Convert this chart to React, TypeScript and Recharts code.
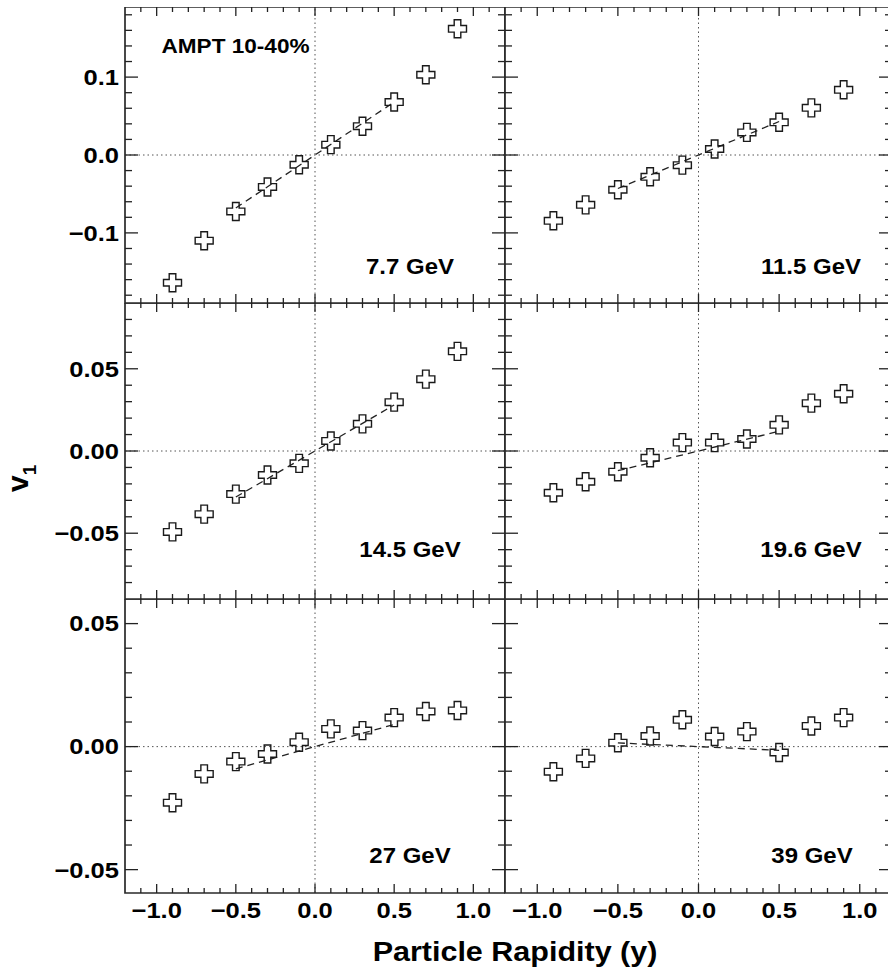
import React from 'react';
import { ScatterChart, Scatter, XAxis, YAxis, ReferenceLine, ReferenceArea } from 'recharts';

// ---------- data ----------
const rapidity = [-0.9, -0.7, -0.5, -0.3, -0.1, 0.1, 0.3, 0.5, 0.7, 0.9];

const v1_7p7 = [-0.164, -0.11, -0.0725, -0.041, -0.0125, 0.0133, 0.037, 0.068, 0.103, 0.162];
const v1_11p5 = [-0.0845, -0.064, -0.0446, -0.028, -0.013, 0.0077, 0.029, 0.042, 0.0605, 0.0837];
const v1_14p5 = [-0.0492, -0.0384, -0.0262, -0.0146, -0.0075, 0.0061, 0.0165, 0.0297, 0.0437, 0.0606];
const v1_19p6 = [-0.0254, -0.0187, -0.0126, -0.0041, 0.0051, 0.0051, 0.0073, 0.0159, 0.0291, 0.0348];
const v1_27 = [-0.0228, -0.0111, -0.0061, -0.003, 0.0018, 0.0072, 0.0065, 0.0118, 0.0143, 0.0147];
const v1_39 = [-0.0102, -0.0048, 0.0016, 0.0043, 0.0109, 0.0041, 0.0061, -0.0024, 0.0084, 0.0118];

// linear fit (dashed) endpoints
const fitX = [-0.5, 0.5];
const fit_7p7 = [-0.068, 0.068];
const fit_11p5 = [-0.043, 0.043];
const fit_14p5 = [-0.028, 0.028];
const fit_19p6 = [-0.012, 0.012];
const fit_27 = [-0.009, 0.009];
const fit_39 = [0.0015, -0.0015];

const energyLabels = ['7.7 GeV', '11.5 GeV', '14.5 GeV', '19.6 GeV', '27 GeV', '39 GeV'];
const centralityLabel = 'AMPT 10-40%';
const xTitle = 'Particle Rapidity (y)';

const xTicks = [-1.1, -1.0, -0.9, -0.8, -0.7, -0.6, -0.5, -0.4, -0.3, -0.2, -0.1, 0, 0.1, 0.2, 0.3, 0.4, 0.5, 0.6, 0.7, 0.8, 0.9, 1.0, 1.1];
const yTicksRow1 = [-0.18, -0.16, -0.14, -0.12, -0.1, -0.08, -0.06, -0.04, -0.02, 0, 0.02, 0.04, 0.06, 0.08, 0.1, 0.12, 0.14, 0.16, 0.18];
const yTicksRow2 = [-0.08, -0.07, -0.06, -0.05, -0.04, -0.03, -0.02, -0.01, 0, 0.01, 0.02, 0.03, 0.04, 0.05, 0.06, 0.07, 0.08];
const yTicksRow3 = [-0.05, -0.04, -0.03, -0.02, -0.01, 0, 0.01, 0.02, 0.03, 0.04, 0.05];

const xDomain = [-1.2, 1.2];
const yDomains = [[-0.19, 0.19], [-0.09, 0.09], [-0.0595, 0.06]];
const yMajorStep = [0.1, 0.05, 0.05];
const yDecimals = [1, 2, 2];
const yTicksRows = [yTicksRow1, yTicksRow2, yTicksRow3];

// ---------- layout ----------
const COL_LEFT = [125, 505];
const COL_W = [380, 387];
const ROW_TOP = [7, 303, 599];
const ROW_H = [296, 296, 294];
const YW = 125;
const XH = 45;
const FONT = '"Liberation Sans", Arial, Helvetica, sans-serif';
const INK = '#222';

const fmt = (v: number, d: number) => {
  const val = Math.abs(v) < 1e-9 ? 0 : v;
  return val.toFixed(d).replace('-', '\u2212');
};
const isMajor = (v: number, step: number) => Math.abs(v / step - Math.round(v / step)) < 1e-6;

function XTick(props: any) {
  const { x, y, payload, plotH, showLabel } = props;
  const v = payload.value;
  const major = isMajor(v, 0.5);
  const len = major ? 9 : 5;
  return (
    <g>
      <line x1={x} y1={y} x2={x} y2={y - len} stroke={INK} strokeWidth={1.3} />
      <line x1={x} y1={y - plotH} x2={x} y2={y - plotH + len} stroke={INK} strokeWidth={1.3} />
      {showLabel && major && (
        <g transform={`translate(${x},${y + 17 + 0.358 * 22}) scale(1.16,1)`}>
          <text x={0} y={0} textAnchor="middle" fontFamily={FONT} fontWeight="bold" fontSize={22} fill="#000">
            {fmt(v, 1)}
          </text>
        </g>
      )}
    </g>
  );
}

function YTick(props: any) {
  const { x, y, payload, plotW, showLabel, step, dec } = props;
  const v = payload.value;
  const major = isMajor(v, step);
  const len = major ? 13 : 7;
  return (
    <g>
      <line x1={x} y1={y} x2={x + len} y2={y} stroke={INK} strokeWidth={1.3} />
      <line x1={x + plotW} y1={y} x2={x + plotW - len} y2={y} stroke={INK} strokeWidth={1.3} />
      {showLabel && major && (
        <g transform={`translate(${x - 6},${y + 0.358 * 22}) scale(1.16,1)`}>
          <text x={0} y={0} textAnchor="end" fontFamily={FONT} fontWeight="bold" fontSize={22} fill="#000">
            {fmt(v, dec)}
          </text>
        </g>
      )}
    </g>
  );
}

function Cross(props: any) {
  const { cx, cy } = props;
  if (cx == null || cy == null) return <g />;
  const a = 3.3;
  const L = 9;
  const d = `M${cx - a},${cy - L}H${cx + a}V${cy - a}H${cx + L}V${cy + a}H${cx + a}V${cy + L}H${cx - a}V${cy + a}H${cx - L}V${cy - a}H${cx - a}Z`;
  return <path d={d} fill="none" stroke="#1a1a1a" strokeWidth={1.4} />;
}

const NoShape = () => <g />;

function Panel({ r, c, series, fit }: { r: number; c: number; series: number[]; fit: number[] }) {
  const plotLeft = COL_LEFT[c];
  const plotW = COL_W[c];
  const plotTop = ROW_TOP[r];
  const plotH = ROW_H[r];
  const dom = yDomains[r];
  const data = rapidity.map((x, i) => ({ x, y: series[i] }));
  const fitData = fitX.map((x, i) => ({ x, y: fit[i] }));
  const W = YW + plotW;
  const H = plotH + XH;
  return (
    <div style={{ position: 'absolute', left: plotLeft - YW, top: plotTop, width: W, height: H }}>
      <ScatterChart width={W} height={H} margin={{ top: 0, right: 0, bottom: 0, left: 0 }}>
        <XAxis
          type="number"
          dataKey="x"
          domain={xDomain}
          ticks={xTicks}
          interval={0}
          allowDataOverflow
          axisLine={false}
          tickLine={false}
          tickSize={0}
          tickMargin={0}
          height={XH}
          tick={(p: any) => <XTick {...p} plotH={plotH} showLabel={r === 2} />}
        />
        <YAxis
          type="number"
          dataKey="y"
          domain={dom}
          ticks={yTicksRows[r]}
          interval={0}
          allowDataOverflow
          axisLine={false}
          tickLine={false}
          tickSize={0}
          tickMargin={0}
          width={YW}
          tick={(p: any) => (
            <YTick {...p} plotW={plotW} showLabel={c === 0} step={yMajorStep[r]} dec={yDecimals[r]} />
          )}
        />
        <ReferenceLine x={0} stroke="#555" strokeDasharray="1.5 3" strokeWidth={1} />
        <ReferenceLine y={0} stroke="#555" strokeDasharray="1.5 3" strokeWidth={1} />
        <Scatter
          data={fitData}
          line={{ stroke: '#222', strokeWidth: 1.3, strokeDasharray: '7 5' }}
          shape={NoShape}
          isAnimationActive={false}
        />
        <Scatter data={data} shape={(p: any) => <Cross {...p} />} isAnimationActive={false} />
        <ReferenceArea
          x1={xDomain[0]}
          x2={xDomain[1]}
          y1={dom[0]}
          y2={dom[1]}
          fill="none"
          fillOpacity={0}
          stroke="#2a2a2a"
          strokeWidth={1.7}
        />
      </ScatterChart>
    </div>
  );
}

function StretchText({ cx, cy, text, size, sx }: { cx: number; cy: number; text: string; size: number; sx: number }) {
  return (
    <g transform={`translate(${cx},${cy + 0.358 * size}) scale(${sx},1)`}>
      <text x={0} y={0} textAnchor="middle" fontFamily={FONT} fontWeight="bold" fontSize={size} fill="#000">
        {text}
      </text>
    </g>
  );
}

const panels = [
  { r: 0, c: 0, series: v1_7p7, fit: fit_7p7 },
  { r: 0, c: 1, series: v1_11p5, fit: fit_11p5 },
  { r: 1, c: 0, series: v1_14p5, fit: fit_14p5 },
  { r: 1, c: 1, series: v1_19p6, fit: fit_19p6 },
  { r: 2, c: 0, series: v1_27, fit: fit_27 },
  { r: 2, c: 1, series: v1_39, fit: fit_39 },
];

const labelPos = [
  [410, 266],
  [811, 266],
  [410, 549],
  [811, 549],
  [410, 855],
  [812, 855],
];

export default function App() {
  return (
    <div
      style={{
        position: 'absolute',
        left: 0,
        top: 0,
        width: 888,
        height: 973,
        overflow: 'hidden',
        background: '#fff',
      }}
    >
      {panels.map((p, i) => (
        <Panel key={i} r={p.r} c={p.c} series={p.series} fit={p.fit} />
      ))}
      <svg
        width={888}
        height={973}
        style={{ position: 'absolute', left: 0, top: 0, pointerEvents: 'none' }}
      >
        <StretchText cx={235.5} cy={45.5} text={centralityLabel} size={20} sx={1.13} />
        {energyLabels.map((t, i) => (
          <StretchText key={t} cx={labelPos[i][0]} cy={labelPos[i][1]} text={t} size={22} sx={1.09} />
        ))}
        <StretchText cx={515} cy={951.5} text={xTitle} size={27} sx={1.13} />
        <text
          transform="translate(28,492) rotate(-90)"
          fontFamily={FONT}
          fontWeight="bold"
          fontSize={30}
          fill="#000"
        >
          v
          <tspan fontSize={19} dy={8}>
            1
          </tspan>
        </text>
      </svg>
    </div>
  );
}
